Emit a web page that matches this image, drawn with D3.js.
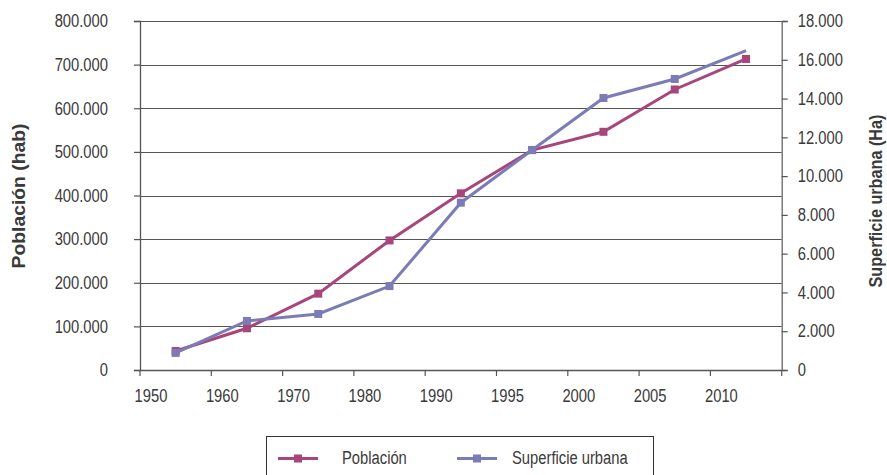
<!DOCTYPE html>
<html>
<head>
<meta charset="utf-8">
<script src="https://cdn.jsdelivr.net/npm/d3@7"></script>
<style>
  body { margin: 0; background: #fff; }
  svg { display: block; }
  text { font-family: "Liberation Sans", Arial, sans-serif; fill: #3a3a3a; }
</style>
</head>
<body>
<svg id="chart" width="887" height="475"></svg>
<script>
const categories = ["1950", "1960", "1970", "1980", "1990", "1995", "2000", "2005", "2010"];
const poblacion = [43500, 95600, 175000, 297000, 405000, 504000, 546000, 643000, 713000];
const superficie = [880, 2530, 2890, 4330, 8630, 11350, 14030, 15010, 16470];
const leftTicks = [0, 100000, 200000, 300000, 400000, 500000, 600000, 700000, 800000];
const rightTicks = [0, 2000, 4000, 6000, 8000, 10000, 12000, 14000, 16000, 18000];
const seriesNames = ["Población", "Superficie urbana"];

const colPob = "#a8457b";
const colSup = "#7b7cb5";

const svg = d3.select("#chart");
const L = 140, R = 781.7, T = 21, B = 370;
const NARROW = 0.82;

const x = d3.scaleBand().domain(categories).range([L, R]).paddingInner(0).paddingOuter(0);
const yL = d3.scaleLinear().domain([0, 800000]).range([B, T]);
const yR = d3.scaleLinear().domain([0, 18000]).range([B, T]);
const fmt = v => v === 0 ? "0" : d3.format(",")(v).replace(/,/g, ".");

// gridlines
svg.append("g").selectAll("line").data(leftTicks.filter(d => d > 0)).join("line")
  .attr("x1", L).attr("x2", R)
  .attr("y1", d => Math.round(yL(d)) + 0.5).attr("y2", d => Math.round(yL(d)) + 0.5)
  .attr("stroke", "#555").attr("stroke-width", 1.2);

// left axis
const gl = svg.append("g").attr("transform", `translate(${L},0)`)
  .call(d3.axisLeft(yL).tickValues(leftTicks).tickFormat(fmt).tickSize(6).tickPadding(26));
gl.select(".domain").attr("stroke", "#555").attr("stroke-width", 1.3);
gl.selectAll(".tick line").attr("stroke", "#555").attr("stroke-width", 1.2);
gl.selectAll("text").style("font-size", "18px").attr("fill", "#3a3a3a").classed("nar", true);

// right axis
const gr = svg.append("g").attr("transform", `translate(${R},0)`)
  .call(d3.axisRight(yR).tickValues(rightTicks).tickFormat(fmt).tickSize(6).tickPadding(10));
gr.select(".domain").attr("stroke", "#666").attr("stroke-width", 1.3);
gr.selectAll(".tick line").attr("stroke", "#555").attr("stroke-width", 1.2);
gr.selectAll("text").style("font-size", "18px").attr("fill", "#3a3a3a").classed("nar", true);

// bottom axis
const gx = svg.append("g");
gx.append("line").attr("x1", L).attr("x2", R).attr("y1", B + 0.5).attr("y2", B + 0.5)
  .attr("stroke", "#555").attr("stroke-width", 1.3);
const tickPos = categories.map(c => x(c)).concat([R]);
gx.selectAll("line.t").data(tickPos).join("line").attr("class", "t")
  .attr("x1", d => d).attr("x2", d => d).attr("y1", B).attr("y2", B + 6)
  .attr("stroke", "#555").attr("stroke-width", 1.2);
gx.selectAll("text").data(categories).join("text")
  .attr("class", "nar")
  .attr("x", d => x(d) + 11).attr("y", B + 32)
  .attr("text-anchor", "middle").style("font-size", "18px").text(d => d);

// axis titles
svg.append("text").attr("transform", "translate(25,196) rotate(-90)")
  .attr("text-anchor", "middle").style("font-size", "19px").style("font-weight", "bold")
  .attr("fill", "#111").attr("textLength", 145).attr("lengthAdjust", "spacingAndGlyphs")
  .text("Población (hab)");
svg.append("text").attr("transform", "translate(882,201) rotate(-90)")
  .attr("text-anchor", "middle").style("font-size", "19px").style("font-weight", "bold")
  .attr("fill", "#111").attr("textLength", 173).attr("lengthAdjust", "spacingAndGlyphs")
  .text("Superficie urbana (Ha)");

const cx = c => x(c) + x.bandwidth() / 2;

// lines
const linePob = d3.line().x((d, i) => cx(categories[i])).y(d => yL(d));
const lineSup = d3.line().x((d, i) => cx(categories[i])).y(d => yR(d));

svg.append("path").datum(poblacion).attr("d", linePob)
  .attr("fill", "none").attr("stroke", colPob).attr("stroke-width", 3);
svg.append("g").selectAll("rect").data(poblacion).join("rect")
  .attr("x", (d, i) => cx(categories[i]) - 4).attr("y", d => yL(d) - 4)
  .attr("width", 8).attr("height", 8).attr("fill", colPob);

svg.append("path").datum(superficie).attr("d", lineSup)
  .attr("fill", "none").attr("stroke", colSup).attr("stroke-width", 3);
svg.append("g").selectAll("rect").data(superficie.slice(0, superficie.length - 1)).join("rect")
  .attr("x", (d, i) => cx(categories[i]) - 4).attr("y", d => yR(d) - 4)
  .attr("width", 8).attr("height", 8).attr("fill", colSup);

// legend
const lg = svg.append("g");
lg.append("rect").attr("x", 266.5).attr("y", 436.5).attr("width", 387).attr("height", 45)
  .attr("fill", "none").attr("stroke", "#333").attr("stroke-width", 1);
const legItems = [
  { name: seriesNames[0], color: colPob, x0: 278, tx: 342 },
  { name: seriesNames[1], color: colSup, x0: 457, tx: 512 }
];
legItems.forEach(it => {
  lg.append("line").attr("x1", it.x0).attr("x2", it.x0 + 40).attr("y1", 458.5).attr("y2", 458.5)
    .attr("stroke", it.color).attr("stroke-width", 3);
  lg.append("rect").attr("x", it.x0 + 16).attr("y", 454.5).attr("width", 8).attr("height", 8).attr("fill", it.color);
  lg.append("text").attr("x", it.tx).attr("y", 464).style("font-size", "18px").attr("class", "nar").text(it.name);
});

// emulate a narrow face: compress each text horizontally
svg.selectAll("text.nar").each(function() {
  const len = this.getComputedTextLength();
  if (len > 0) {
    d3.select(this).attr("textLength", (len * NARROW).toFixed(2)).attr("lengthAdjust", "spacingAndGlyphs");
  }
});
</script>
</body>
</html>
